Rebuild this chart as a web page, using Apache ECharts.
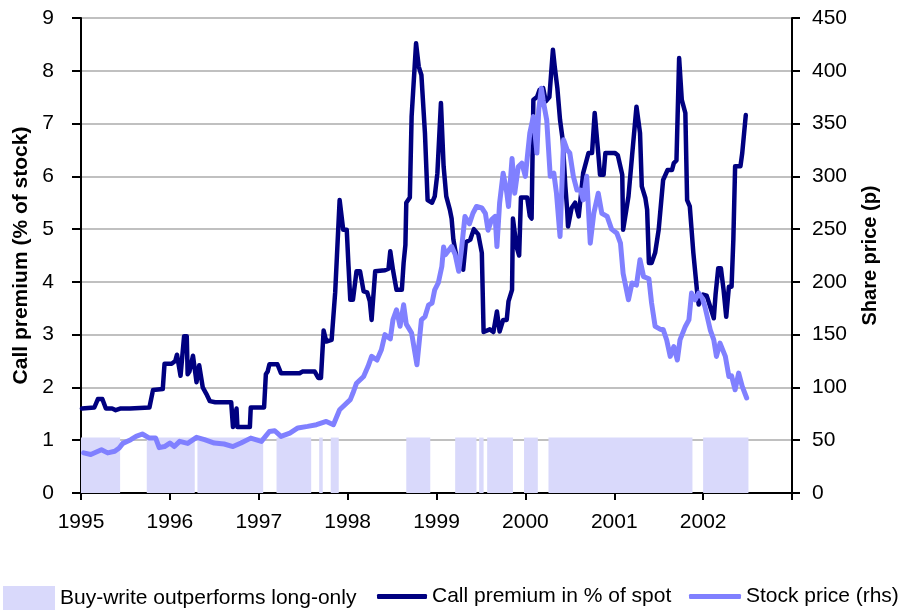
<!DOCTYPE html>
<html>
<head>
<meta charset="utf-8">
<title>Call premium vs share price</title>
<script src="https://cdn.jsdelivr.net/npm/echarts@6/dist/echarts.min.js"></script>
<style>
    html, body {margin: 0; padding: 0; background: #fff;}
    #chart {width: 905px; height: 614px;}
</style>
</head>
<body>
<div id="chart"></div>
<script>
// periods where buy-write beat long-only (decimal years), bar height on left axis
var bandStart = [1995.0, 1995.74, 1996.31, 1997.20, 1997.68, 1997.81, 1998.66, 1999.21, 1999.48, 1999.57, 1999.985, 2000.26, 2002.00];
var bandEnd   = [1995.44, 1996.28, 1997.05, 1997.59, 1997.72, 1997.90, 1998.93, 1999.45, 1999.53, 1999.86, 2000.14, 2001.88, 2002.51];
var bandHeight = 1.05;

// call premium in % of spot (left axis)
var premiumDates = [
    1995.01, 1995.15, 1995.19, 1995.24, 1995.28, 1995.35, 1995.39, 1995.44, 1995.55, 1995.77,
    1995.81, 1995.92, 1995.94, 1996.02, 1996.06, 1996.08, 1996.10, 1996.12, 1996.16, 1996.19,
    1996.20, 1996.22, 1996.26, 1996.30, 1996.33, 1996.37, 1996.41, 1996.45, 1996.51, 1996.69,
    1996.71, 1996.73, 1996.75, 1996.76, 1996.90, 1996.91, 1997.06, 1997.08, 1997.10, 1997.12,
    1997.21, 1997.25, 1997.46, 1997.49, 1997.63, 1997.67, 1997.70, 1997.73, 1997.76, 1997.82,
    1997.86, 1997.88, 1997.91, 1997.95, 1997.99, 1998.01, 1998.03, 1998.06, 1998.10, 1998.14,
    1998.18, 1998.22, 1998.25, 1998.27, 1998.29, 1998.31, 1998.42, 1998.46, 1998.48, 1998.51,
    1998.55, 1998.61, 1998.63, 1998.65, 1998.66, 1998.70, 1998.72, 1998.77, 1998.80, 1998.83,
    1998.87, 1998.90, 1998.95, 1998.98, 1999.01, 1999.05, 1999.08, 1999.11, 1999.15, 1999.17,
    1999.19, 1999.23, 1999.26, 1999.30, 1999.33, 1999.38, 1999.42, 1999.47, 1999.51, 1999.53,
    1999.60, 1999.64, 1999.68, 1999.71, 1999.75, 1999.79, 1999.81, 1999.85, 1999.86, 1999.88,
    1999.90, 1999.93, 1999.95, 2000.02, 2000.05, 2000.07, 2000.09, 2000.13, 2000.16, 2000.20,
    2000.23, 2000.27, 2000.31, 2000.33, 2000.36, 2000.39, 2000.42, 2000.45, 2000.47, 2000.48,
    2000.52, 2000.56, 2000.60, 2000.65, 2000.71, 2000.75, 2000.78, 2000.82, 2000.84, 2000.88,
    2000.90, 2001.01, 2001.04, 2001.09, 2001.10, 2001.12, 2001.16, 2001.20, 2001.25, 2001.27,
    2001.29, 2001.31, 2001.35, 2001.37, 2001.39, 2001.42, 2001.46, 2001.50, 2001.55, 2001.60,
    2001.65, 2001.67, 2001.70, 2001.73, 2001.76, 2001.80, 2001.82, 2001.85, 2001.89, 2001.93,
    2001.95, 2001.97, 2002.00, 2002.04, 2002.08, 2002.12, 2002.14, 2002.17, 2002.20, 2002.23,
    2002.26, 2002.29, 2002.32, 2002.34, 2002.36, 2002.42, 2002.44, 2002.46, 2002.48
];
var premiumValues = [
    1.60, 1.62, 1.78, 1.78, 1.60, 1.60, 1.57, 1.60, 1.60, 1.62,
    1.95, 1.97, 2.45, 2.45, 2.50, 2.62, 2.62, 2.22, 2.97, 2.97,
    2.25, 2.30, 2.60, 2.10, 2.42, 2.00, 1.88, 1.74, 1.72, 1.72,
    1.25, 1.25, 1.60, 1.25, 1.25, 1.62, 1.62, 2.25, 2.30, 2.44,
    2.44, 2.27, 2.27, 2.30, 2.30, 2.18, 2.18, 3.08, 2.87, 2.90,
    3.80, 4.50, 5.55, 4.99, 4.99, 4.30, 3.66, 3.66, 4.20, 4.20,
    3.82, 3.80, 3.63, 3.28, 3.28, 4.20, 4.22, 4.25, 4.58, 4.23,
    3.85, 3.85, 4.36, 4.70, 5.50, 5.60, 7.13, 8.52, 8.08, 7.92,
    6.82, 5.55, 5.50, 5.62, 6.06, 7.39, 6.19, 5.62, 5.37, 5.20,
    4.80, 4.42, 4.40, 4.23, 4.75, 4.80, 5.00, 4.90, 4.55, 3.05,
    3.10, 3.05, 3.44, 3.06, 3.28, 3.28, 3.63, 3.85, 5.20, 5.20,
    4.67, 4.50, 5.60, 5.60, 5.25, 5.20, 7.45, 7.50, 7.64, 7.67,
    7.42, 7.50, 8.40, 8.08, 7.67, 7.07, 6.69, 5.81, 5.37, 5.05,
    5.40, 5.50, 5.24, 6.06, 6.44, 6.44, 7.20, 6.44, 6.03, 6.03,
    6.44, 6.44, 6.40, 6.03, 4.99, 5.20, 5.62, 6.38, 7.32, 7.30,
    6.82, 5.81, 5.59, 5.37, 4.36, 4.36, 4.55, 4.99, 5.93, 6.12,
    6.12, 6.25, 6.30, 8.24, 7.45, 7.20, 5.55, 5.43, 4.55, 3.85,
    3.57, 3.57, 3.76, 3.74, 3.53, 3.31, 3.76, 4.26, 4.26, 3.85,
    3.34, 3.91, 3.91, 4.80, 6.19, 6.19, 6.44, 6.80, 7.16
];

// share price in pence (right axis)
var priceDates = [
    1995.03, 1995.11, 1995.23, 1995.30, 1995.38, 1995.43, 1995.47, 1995.56, 1995.62, 1995.69,
    1995.77, 1995.84, 1995.88, 1995.94, 1996.00, 1996.05, 1996.11, 1996.20, 1996.30, 1996.39,
    1996.50, 1996.61, 1996.71, 1996.80, 1996.91, 1997.03, 1997.12, 1997.18, 1997.25, 1997.35,
    1997.44, 1997.55, 1997.65, 1997.76, 1997.84, 1997.91, 1998.03, 1998.06, 1998.10, 1998.18,
    1998.23, 1998.27, 1998.33, 1998.38, 1998.42, 1998.48, 1998.51, 1998.55, 1998.59, 1998.63,
    1998.66, 1998.72, 1998.78, 1998.83, 1998.87, 1998.91, 1998.95, 1998.98, 1999.02, 1999.06,
    1999.08, 1999.10, 1999.13, 1999.17, 1999.21, 1999.25, 1999.28, 1999.32, 1999.37, 1999.41,
    1999.45, 1999.51, 1999.55, 1999.58, 1999.62, 1999.66, 1999.68, 1999.71, 1999.75, 1999.79,
    1999.81, 1999.85, 1999.88, 1999.92, 1999.96, 2000.00, 2000.03, 2000.05, 2000.09, 2000.13,
    2000.15, 2000.18, 2000.20, 2000.24, 2000.28, 2000.32, 2000.35, 2000.39, 2000.43, 2000.47,
    2000.50, 2000.54, 2000.58, 2000.62, 2000.65, 2000.69, 2000.73, 2000.77, 2000.82, 2000.86,
    2000.92, 2000.97, 2001.03, 2001.07, 2001.10, 2001.16, 2001.20, 2001.25, 2001.29, 2001.33,
    2001.39, 2001.42, 2001.46, 2001.52, 2001.55, 2001.59, 2001.63, 2001.67, 2001.71, 2001.74,
    2001.80, 2001.84, 2001.87, 2001.91, 2001.95, 2001.99, 2002.02, 2002.08, 2002.12, 2002.15,
    2002.19, 2002.25, 2002.29, 2002.32, 2002.36, 2002.40, 2002.44, 2002.49
];
var priceValues = [
    38, 36.5, 41, 38, 39.5, 42.6, 47, 50.5, 53.6, 55.9,
    52, 52, 43, 44, 47.3, 44, 48.9, 47, 52.7, 50.5,
    47.3, 46.4, 44, 47.3, 52, 48.9, 58.3, 59, 53.6, 56.8,
    61.6, 63.1, 64.7, 67.8, 64.7, 78.9, 88.4, 94.7, 104, 110.4,
    120, 129.4, 126, 135.7, 150, 146, 164, 173.6, 158, 178.3,
    160, 151.5, 121.5, 164, 167, 178, 180, 192.5, 199, 214.6,
    233, 225.7, 229, 233.5, 226, 210, 230, 262, 255, 265,
    271.4, 270, 265, 249, 259, 262, 233.5, 274.6, 303, 285,
    271.4, 317, 284, 309, 312.5, 300, 325, 341, 356.6, 322,
    363, 383.5, 372, 353.4, 300, 303, 284, 243, 334.6, 325,
    322, 300, 287, 287, 277.7, 300, 236.7, 265, 284, 265,
    262, 250, 246, 236.7, 208, 183, 199, 197, 221, 205,
    203, 180, 157.8, 155, 155, 145, 129.4, 138.8, 126, 145,
    157.8, 164, 189.4, 183, 189.4, 184.6, 176.7, 154.6, 145, 129.4,
    142, 129.4, 110.4, 111, 97.8, 113.6, 101, 90
];

var names = ['Buy-write outperforms long-only', 'Call premium in % of spot', 'Stock price (rhs)'];
var colors = ['#d9d9fb', '#000080', '#8080ff'];
var fontName = "'Liberation Sans', Arial, sans-serif";

function pairs(xs, ys){
    var out = [];
    for(var i = 0; i < xs.length; i++){
        out.push([xs[i], ys[i]]);
    }
    return out;
}

function tickLabel(margin, fmt){
    var o = {color: '#000', fontFamily: fontName, fontSize: 21, margin: margin};
    if(fmt){
        o.formatter = fmt;
    }
    return o;
}

var bandData = [];
for(var i = 0; i < bandStart.length; i++){
    bandData.push([bandStart[i], bandEnd[i], bandHeight]);
}

var chart = echarts.init(document.getElementById('chart'), null, {renderer: 'canvas'});

var legendText = {color: '#000', fontFamily: fontName, fontSize: 21};

var option = {
    animation: false,
    backgroundColor: '#fff',
    grid: {left: 81, right: 113, top: 18, bottom: 121, containLabel: false},
    legend: [{
        data: [names[0]],
        left: 3, top: 586, padding: 0,
        icon: 'rect', itemWidth: 52, itemHeight: 24,
        textStyle: legendText, selectedMode: false
    },{
        data: [names[1]],
        left: 377, top: 586, padding: 0,
        icon: 'roundRect', itemWidth: 50, itemHeight: 5,
        textStyle: legendText, selectedMode: false
    },{
        data: [names[2]],
        left: 689, top: 586, padding: 0,
        icon: 'roundRect', itemWidth: 52, itemHeight: 5,
        textStyle: legendText, selectedMode: false
    }],
    xAxis: {
        type: 'value',
        min: 1995, max: 2003, interval: 1,
        axisLine: {lineStyle: {color: '#000', width: 2}},
        axisTick: {show: true, inside: false, length: 7, lineStyle: {color: '#000', width: 2}},
        axisLabel: tickLabel(19, function(v){ return v < 2003 ? String(v) : ''; }),
        splitLine: {show: false}
    },
    yAxis: [{
        type: 'value',
        min: 0, max: 9, interval: 1,
        name: 'Call premium (% of stock)',
        nameLocation: 'middle', nameGap: 34, nameRotate: 90,
        nameTextStyle: {color: '#000', fontFamily: fontName, fontSize: 21, fontWeight: 'bold'},
        axisLine: {show: true, lineStyle: {color: '#000', width: 2}},
        axisTick: {show: true, length: 9, lineStyle: {color: '#000', width: 2}},
        axisLabel: tickLabel(27),
        splitLine: {show: true, lineStyle: {color: '#c0c0c0', width: 2}}
    },{
        type: 'value',
        position: 'right',
        min: 0, max: 450, interval: 50,
        name: 'Share price (p)',
        nameLocation: 'middle', nameGap: 68, nameRotate: 90,
        nameTextStyle: {color: '#000', fontFamily: fontName, fontSize: 20, fontWeight: 'bold'},
        axisLine: {show: true, lineStyle: {color: '#000', width: 2}},
        axisTick: {show: true, length: 8, lineStyle: {color: '#000', width: 2}},
        axisLabel: tickLabel(20),
        splitLine: {show: false}
    }],
    series: [{
        name: names[0],
        type: 'custom',
        xAxisIndex: 0, yAxisIndex: 0,
        itemStyle: {color: colors[0]},
        encode: {x: [0, 1], y: 2},
        renderItem: function(params, api){
            var p0 = api.coord([api.value(0), 0]);
            var p1 = api.coord([api.value(1), api.value(2)]);
            return {
                type: 'rect',
                shape: {x: p0[0], y: p1[1], width: p1[0] - p0[0], height: p0[1] - p1[1]},
                style: {fill: colors[0]}
            };
        },
        data: bandData
    },{
        name: names[1],
        type: 'line',
        yAxisIndex: 0,
        showSymbol: false, symbol: 'none',
        itemStyle: {color: colors[1]},
        lineStyle: {color: colors[1], width: 4.5, cap: 'round', join: 'round'},
        data: pairs(premiumDates, premiumValues)
    },{
        name: names[2],
        type: 'line',
        yAxisIndex: 1,
        showSymbol: false, symbol: 'none',
        itemStyle: {color: colors[2]},
        lineStyle: {color: colors[2], width: 5, cap: 'round', join: 'round'},
        data: pairs(priceDates, priceValues)
    }]
};

chart.setOption(option);
</script>
</body>
</html>
